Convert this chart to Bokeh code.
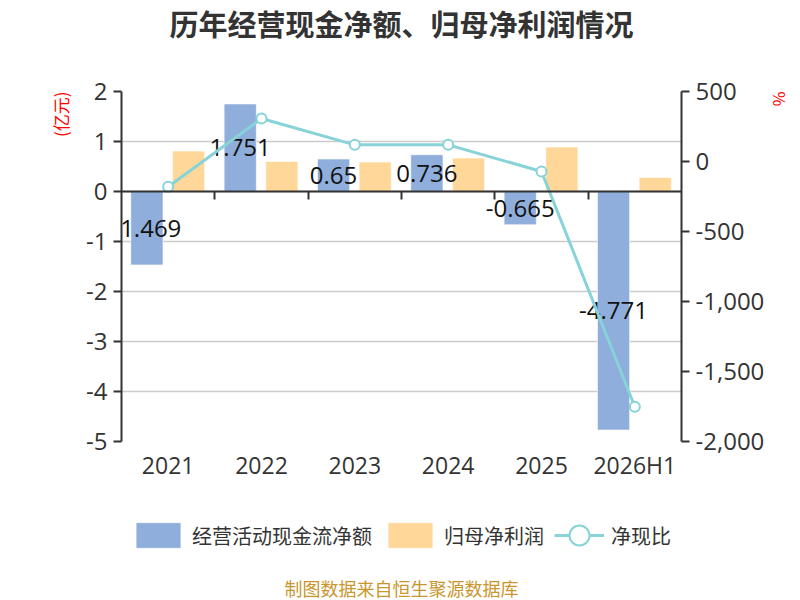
from bokeh.plotting import figure
from bokeh.layouts import column
from bokeh.models import (ColumnDataSource, FactorRange, Range1d, LinearAxis, FixedTicker,
                          NumeralTickFormatter, Legend, LegendItem, Title, Label)
from bokeh.transform import dodge
from bokeh.core.properties import value
from bokeh.embed import file_html
from bokeh.resources import INLINE

categories = ["2021", "2022", "2023", "2024", "2025", "2026H1"]
cash_flow = [-1.469, 1.751, 0.65, 0.736, -0.665, -4.771]
net_profit = [0.81, 0.60, 0.59, 0.67, 0.89, 0.28]
cash_ratio = [-180, 307, 119, 119, -71, -1752]
left_ticks = [-5, -4, -3, -2, -1, 0, 1, 2]
right_ticks = [-2000, -1500, -1000, -500, 0, 500]
boundary_ticks = [1, 2, 3, 4, 5]

BLUE = "#8FAEDB"
YELLOW = "#FFD899"
TEAL = "#87D3D7"
CJK = "Noto Sans CJK SC"
LAT = "Open Sans"

src = ColumnDataSource(dict(
    cat=categories,
    cash=cash_flow,
    profit=net_profit,
    ratio=cash_ratio,
    mid=[v / 2 for v in cash_flow],
    lbl=[str(v) for v in cash_flow],
))

# ---- title strip
top = figure(width=800, height=60, x_range=Range1d(0, 1), y_range=Range1d(0, 1),
             x_axis_type=None, y_axis_type=None, output_backend="svg",
             toolbar_location=None, min_border=0)
top.outline_line_color = None
top.background_fill_color = "white"
top.border_fill_color = "white"
top.add_layout(Label(x=0.5, y=0.633, text="历年经营现金净额、归母净利润情况",
                     text_align="center", text_baseline="middle", text_font=CJK,
                     text_font_size="29px", text_font_style="bold", text_color="#333333"))

# ---- main chart
p = figure(width=800, height=440, x_range=FactorRange(*categories), y_range=Range1d(-5, 2),
           output_backend="svg", toolbar_location=None,
           min_border_left=121, min_border_right=119, min_border_top=31, min_border_bottom=59)
p.outline_line_color = None
p.background_fill_color = "white"
p.border_fill_color = "white"

p.extra_y_ranges = {"pct": Range1d(-2000, 500)}

p.xgrid.visible = False
p.ygrid.ticker = FixedTicker(ticks=left_ticks)
p.ygrid.grid_line_color = "#CCCCCC"
p.ygrid.grid_line_width = 1.5

def style_axis(ax):
    ax.axis_line_color = "#333333"
    ax.axis_line_width = 2
    ax.major_tick_line_color = "#333333"
    ax.major_tick_line_width = 2
    ax.major_tick_out = 8
    ax.major_tick_in = 0
    ax.minor_tick_line_color = None
    ax.major_label_standoff = 6
    ax.major_label_text_font = LAT
    ax.major_label_text_font_size = "24px"
    ax.major_label_text_color = "#333333"

ya = p.yaxis[0]
ya.ticker = FixedTicker(ticks=left_ticks)
ya.formatter = NumeralTickFormatter(format="0")
style_axis(ya)

ra = LinearAxis(y_range_name="pct", ticker=FixedTicker(ticks=right_ticks),
                formatter=NumeralTickFormatter(format="0,0"))
style_axis(ra)
p.add_layout(ra, "right")

xa = p.xaxis[0]
style_axis(xa)
xa.axis_line_color = None
xa.major_tick_line_color = None
xa.major_tick_out = 0
xa.major_label_standoff = 7
xa.major_label_text_font_size = "23px"

za = LinearAxis(fixed_location=0, ticker=FixedTicker(ticks=boundary_ticks))
style_axis(za)
za.major_label_overrides = {t: "" for t in boundary_ticks}
p.add_layout(za, "below")

p.add_layout(Title(text="(亿元)", align="right", text_font=CJK, text_font_size="17px",
                   text_font_style="normal", text_color="#FF0000", standoff=22), "left")
p.add_layout(Title(text="%", align="left", text_font=CJK, text_font_size="16px",
                   text_font_style="normal", text_color="#FF0000", standoff=0), "right")

p.vbar(x=dodge("cat", -0.228, range=p.x_range), top="cash", bottom=0, width=0.345,
       source=src, fill_color=BLUE, line_color="white", line_alpha=0.6, line_width=1)
p.vbar(x=dodge("cat", 0.218, range=p.x_range), top="profit", bottom=0, width=0.345,
       source=src, fill_color=YELLOW, line_color="white", line_alpha=0.6, line_width=1)

p.text(x=dodge("cat", -0.228, range=p.x_range), y="mid", text="lbl", source=src,
       text_font=value(LAT), text_font_size="24px", text_color="#111111",
       text_align="center", text_baseline="middle")

p.line(x="cat", y="ratio", source=src, y_range_name="pct", line_color=TEAL, line_width=3)
p.scatter(x="cat", y="ratio", source=src, y_range_name="pct", marker="circle", size=10,
          fill_color="white", line_color=TEAL, line_width=2)

# ---- legend + footer strip (legend proxies use the same data, kept outside the view)
lf = figure(width=800, height=100, x_range=Range1d(100, 101), y_range=Range1d(100, 101),
            x_axis_type=None, y_axis_type=None, output_backend="svg", toolbar_location=None,
            min_border=0)
lf.outline_line_color = None
lf.background_fill_color = "white"
lf.border_fill_color = "white"

lb1 = lf.vbar(x="cash", top="profit", bottom=0, width=0.3, source=src,
              fill_color=BLUE, line_color="white", line_alpha=0.6)
lb2 = lf.vbar(x="cash", top="profit", bottom=0, width=0.3, source=src,
              fill_color=YELLOW, line_color="white", line_alpha=0.6)
ll = lf.line(x="cash", y="ratio", source=src, line_color=TEAL, line_width=3)
ls = lf.scatter(x="cash", y="ratio", source=src, marker="circle",
                fill_color="white", line_color=TEAL, line_width=2)

leg1 = Legend(items=[LegendItem(label="经营活动现金流净额", renderers=[lb1]),
                     LegendItem(label="归母净利润", renderers=[lb2])],
              location=(9, 49), orientation="horizontal",
              glyph_width=56, glyph_height=32, label_standoff=6, spacing=10,
              padding=0, margin=0, border_line_alpha=0, background_fill_alpha=0,
              label_text_font=CJK, label_text_font_size="20px", label_text_color="#333333")
leg2 = Legend(items=[LegendItem(label="净现比", renderers=[ll, ls])],
              location=(433, 40), orientation="horizontal",
              glyph_width=50, glyph_height=50, label_standoff=7,
              padding=0, margin=0, border_line_alpha=0, background_fill_alpha=0,
              label_text_font=CJK, label_text_font_size="20px", label_text_color="#333333")
lf.add_layout(leg1, "center")
lf.add_layout(leg2, "center")

lf.add_layout(Label(x=100.5, y=100.13, text="制图数据来自恒生聚源数据库",
                    text_align="center", text_baseline="middle",
                    text_font=CJK, text_font_size="18px", text_color="#C8962D"))

open("out.html", "w").write(file_html(column(top, p, lf), INLINE))
